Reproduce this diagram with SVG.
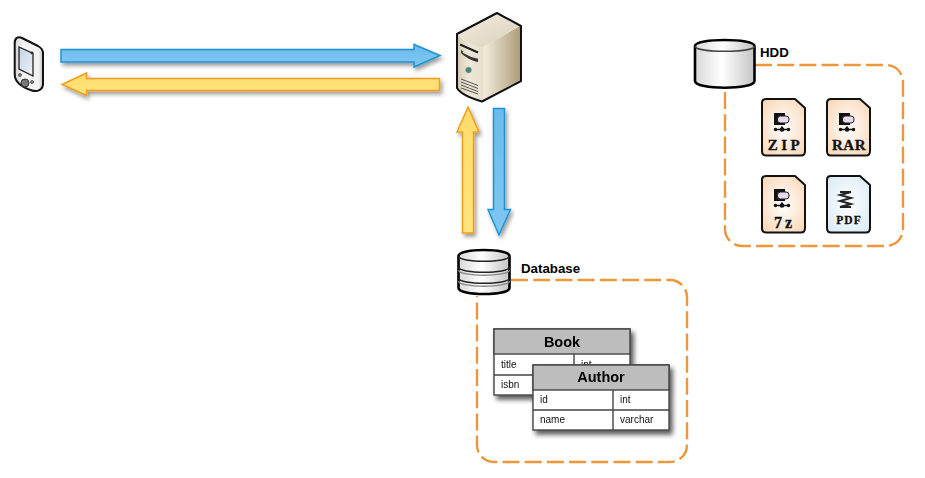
<svg xmlns="http://www.w3.org/2000/svg" width="925" height="478" viewBox="0 0 925 478">
<style>
text{font-family:"Liberation Sans",Arial,sans-serif;fill:#000}
.lbl{font-size:13.300px;font-weight:bold}
.cell{font-size:10px;fill:#111}
.th{font-size:14.500px;font-weight:bold;text-anchor:middle}
.group{fill:none;stroke:#ec973a;stroke-width:2.400;stroke-dasharray:17 5.200}
.blue{fill:url(#gb);stroke:#1f93d6;stroke-width:1.500;filter:url(#sh)}
.yel{fill:url(#gy);stroke:#f39c1c;stroke-width:1.500;filter:url(#sh)}
.tb{fill:#fff;stroke:#444;stroke-width:1.400}
.hd{fill:#bdbdbd;stroke:#444;stroke-width:1.400}
.ln{stroke:#444;stroke-width:1.400;fill:none}
.fo{stroke:#111;stroke-width:2;stroke-linejoin:round}
.ft{font-family:"Liberation Serif","DejaVu Serif",serif;font-weight:bold;font-size:15px;text-anchor:middle;fill:#111;stroke:#111;stroke-width:.3}
.cy{stroke:#000;stroke-width:2.600}
</style>
<defs>
<linearGradient id="gb" x1="0" y1="0" x2="0" y2="1"><stop offset="0" stop-color="#6bbbec"/><stop offset="1" stop-color="#7fc6f1"/></linearGradient>
<linearGradient id="gy" x1="0" y1="0" x2="0" y2="1"><stop offset="0" stop-color="#ffdc6a"/><stop offset="1" stop-color="#ffe47e"/></linearGradient>
<linearGradient id="gcy" x1="0" y1="0" x2="1" y2="0"><stop offset="0" stop-color="#d8d8d8"/><stop offset=".45" stop-color="#ffffff"/><stop offset="1" stop-color="#c4c4c4"/></linearGradient>
<linearGradient id="gsv" x1="0" y1="0" x2="1" y2="0"><stop offset="0" stop-color="#e4dac5"/><stop offset=".45" stop-color="#efe8d8"/><stop offset="1" stop-color="#ae9d79"/></linearGradient>
<linearGradient id="gsf" x1="0" y1="0" x2="1" y2="1"><stop offset="0" stop-color="#f3eee3"/><stop offset="1" stop-color="#d9cfb8"/></linearGradient>
<linearGradient id="gfr" x1="0" y1="0" x2="1" y2="0"><stop offset="0" stop-color="#d5cbb4"/><stop offset=".4" stop-color="#eee7d8"/><stop offset="1" stop-color="#e8dfcc"/></linearGradient>
<linearGradient id="gph" x1="0" y1="0" x2="1" y2="0"><stop offset="0" stop-color="#d5d5d5"/><stop offset=".3" stop-color="#f4f4f4"/><stop offset=".85" stop-color="#f2f2f2"/><stop offset="1" stop-color="#c0c0c0"/></linearGradient>
<linearGradient id="gsc" x1="0" y1="0" x2="1" y2="1"><stop offset="0" stop-color="#c3d3e2"/><stop offset="1" stop-color="#eef3f7"/></linearGradient>
<radialGradient id="gz" cx=".5" cy=".5" r=".72"><stop offset="0" stop-color="#ffffff"/><stop offset="1" stop-color="#f9d3b0"/></radialGradient>
<radialGradient id="gp" cx=".5" cy=".5" r=".72"><stop offset="0" stop-color="#ffffff"/><stop offset="1" stop-color="#d6e9f3"/></radialGradient>
<filter id="sh" x="-20%" y="-40%" width="140%" height="200%"><feGaussianBlur in="SourceAlpha" stdDeviation="2.200"/><feOffset dx="2" dy="3"/><feComponentTransfer><feFuncA type="linear" slope=".4"/></feComponentTransfer><feMerge><feMergeNode/><feMergeNode in="SourceGraphic"/></feMerge></filter>
<filter id="sh2" x="-20%" y="-20%" width="140%" height="140%"><feGaussianBlur in="SourceAlpha" stdDeviation="2.500"/><feOffset dx="3" dy="4"/><feComponentTransfer><feFuncA type="linear" slope=".65"/></feComponentTransfer><feMerge><feMergeNode/><feMergeNode in="SourceGraphic"/></feMerge></filter>
<g id="press">
<path d="M0 0H11V12H0Z" fill="#111"/>
<rect x="3.500" y="3" width="11.500" height="7" rx="3" fill="#ead9ea" stroke="#222" stroke-width="1"/>
<path d="M0 16.500H16" stroke="#111" stroke-width="1.500" fill="none"/>
<path d="M8 13.500V16" stroke="#111" stroke-width="2"/>
<circle cx="1.500" cy="16.500" r="1.700" fill="#111"/><circle cx="8" cy="16.500" r="2.300" fill="#111"/><circle cx="14.500" cy="16.500" r="1.700" fill="#111"/>
</g>
</defs>

<g id="connectors">
<path class="blue" d="M61 49.500H414V44.500L440 55.500L414 67V62H61Z"/>
<path class="yel" d="M439.500 78.500H86.500V73L62 84.500L86.500 95.500V90.500H439.500Z"/>
<path class="yel" d="M462.500 233V132H457L468 107L479 132H473.500V233Z"/>
<path class="blue" d="M493.500 108.500H504.500V209.500H510.500L499 235L488 209.500H493.500Z"/>
</g>

<g id="phone">
<path d="M14.700 43C14.700 38 18 36 22 38L38 46C41.500 48 43 50 43 53V84C43 90 37 92 32 90.500C24 88 14.700 83 14.700 74Z" fill="url(#gph)" stroke="#111" stroke-width="2" stroke-linejoin="round"/>
<path d="M19 47L33 53.500V76L19 69Z" fill="url(#gsc)" stroke="#222" stroke-width="1.300"/>
<circle cx="32" cy="53" r="1.400" fill="#333"/>
<circle cx="25" cy="83" r="4" fill="#777" stroke="#333"/>
<circle cx="20" cy="75" r="1.500" fill="#888" stroke="#333" stroke-width=".7"/>
<circle cx="32" cy="82" r="1.500" fill="#888" stroke="#333" stroke-width=".7"/>
</g>

<g id="server">
<path d="M483 47L497 39L520 26V80L483 101C470 98 461 93 458 88V35C465 42 474 47 483 47Z" fill="url(#gsv)"/>
<path d="M458 35C465 42 474 47 483 47V101C470 98 461 93 458 88Z" fill="url(#gfr)"/>
<path d="M458 34L497 14L520 26L483 47C474 47 465 42 458 34Z" fill="url(#gsf)"/>
<path d="M457 34L497 13L521 26V81L482 101.500C470 98 460 93 457 88Z" fill="none" stroke="#111" stroke-width="2" stroke-linejoin="round"/>
<path d="M460 44.500L478 52.500" stroke="#222" stroke-width="2.200" fill="none"/>
<path d="M461 50C467 55 473 57 478 57V62C472 61 465 57 461 53Z" fill="#333"/>
<path d="M463 52C468 55 473 57 478 58" stroke="#e8dfcc" stroke-width="1.500" fill="none"/>
<circle cx="468.500" cy="70" r="2.800" fill="#3f8b79" stroke="#777" stroke-width=".6"/>
<path d="M461 79L478 85.500M461 82L478 88.500M461 85L478 91.500M461 88L478 94" stroke="#555" stroke-width="1" fill="none"/>
</g>

<g id="database">
<path class="group" d="M511 280H670A17 17 0 0 1 687 297V445A17 17 0 0 1 670 462H494A17 17 0 0 1 477 445V296"/>
<path class="cy" d="M458.500 256C458.500 248 509.500 248 509.500 256V288C509.500 296 458.500 296 458.500 288Z" fill="url(#gcy)"/>
<path d="M458.500 256C458.500 263 509.500 263 509.500 256M458.500 267C458.500 274 509.500 274 509.500 267M458.500 278C458.500 285 509.500 285 509.500 278" fill="none" stroke="#222" stroke-width="1.500"/>
<path d="M458.500 270C458.500 277 509.500 277 509.500 270M458.500 281C458.500 288 509.500 288 509.500 281" fill="none" stroke="#888" stroke-width="1.300"/>
<text class="lbl" x="521" y="273">Database</text>
</g>

<g id="table-book" filter="url(#sh2)">
<rect class="tb" x="494" y="329" width="136" height="66"/>
<rect class="hd" x="494" y="329" width="136" height="25"/>
<path class="ln" d="M494 375H630M574 354V395"/>
<text class="th" x="562" y="347">Book</text>
<text class="cell" x="501" y="368">title</text><text class="cell" x="581" y="368">int</text>
<text class="cell" x="501" y="388">isbn</text>
</g>
<g id="table-author" filter="url(#sh2)">
<rect class="tb" x="533" y="365" width="136" height="65"/>
<rect class="hd" x="533" y="365" width="136" height="25"/>
<path class="ln" d="M533 410H669M613 390V430"/>
<text class="th" x="601" y="382">Author</text>
<text class="cell" x="540" y="403">id</text><text class="cell" x="620" y="403">int</text>
<text class="cell" x="540" y="423">name</text><text class="cell" x="620" y="423">varchar</text>
</g>

<g id="hdd">
<path class="group" d="M755 65H886A17 17 0 0 1 903 82V229A17 17 0 0 1 886 246H742A17 17 0 0 1 725 229V89"/>
<path class="cy" d="M695 46C695 38 754.500 38 754.500 46V81C754.500 90 695 90 695 81Z" fill="url(#gcy)"/>
<path d="M695 46C695 53 754.500 53 754.500 46" fill="none" stroke="#444" stroke-width="1.500"/>
<text class="lbl" x="760" y="57">HDD</text>
</g>

<g id="file-zip">
<path class="fo" fill="url(#gz)" d="M766 99H795L805 108V151Q805 155.500 801 155.500H766Q762 155.500 762 151V103Q762 99 766 99Z"/>
<use href="#press" x="774" y="113"/>
<text class="ft" x="785.500" y="150" style="letter-spacing:3.500px">ZIP</text>
</g>
<g id="file-rar">
<path class="fo" fill="url(#gz)" d="M831 99H860L870 108V151Q870 155.500 866 155.500H831Q827 155.500 827 151V103Q827 99 831 99Z"/>
<use href="#press" x="839" y="113"/>
<text class="ft" x="849" y="150" style="letter-spacing:.5px">RAR</text>
</g>
<g id="file-7z">
<path class="fo" fill="url(#gz)" d="M766 176H795L805 185V228Q805 232.500 801 232.500H766Q762 232.500 762 228V180Q762 176 766 176Z"/>
<use href="#press" x="774" y="189"/>
<text class="ft" x="784.500" y="228" style="font-size:16px;letter-spacing:3px">7z</text>
</g>
<g id="file-pdf">
<path class="fo" fill="url(#gp)" d="M831 176H860L870 185V228Q870 232.500 866 232.500H831Q827 232.500 827 228V180Q827 176 831 176Z"/>
<path d="M840 192H851L840 195L851 198L840 201L851 204L840 207H851" fill="none" stroke="#222" stroke-width="1.900"/>
<text class="ft" x="849" y="224" style="font-size:11.500px;letter-spacing:1px">PDF</text>
</g>
</svg>
